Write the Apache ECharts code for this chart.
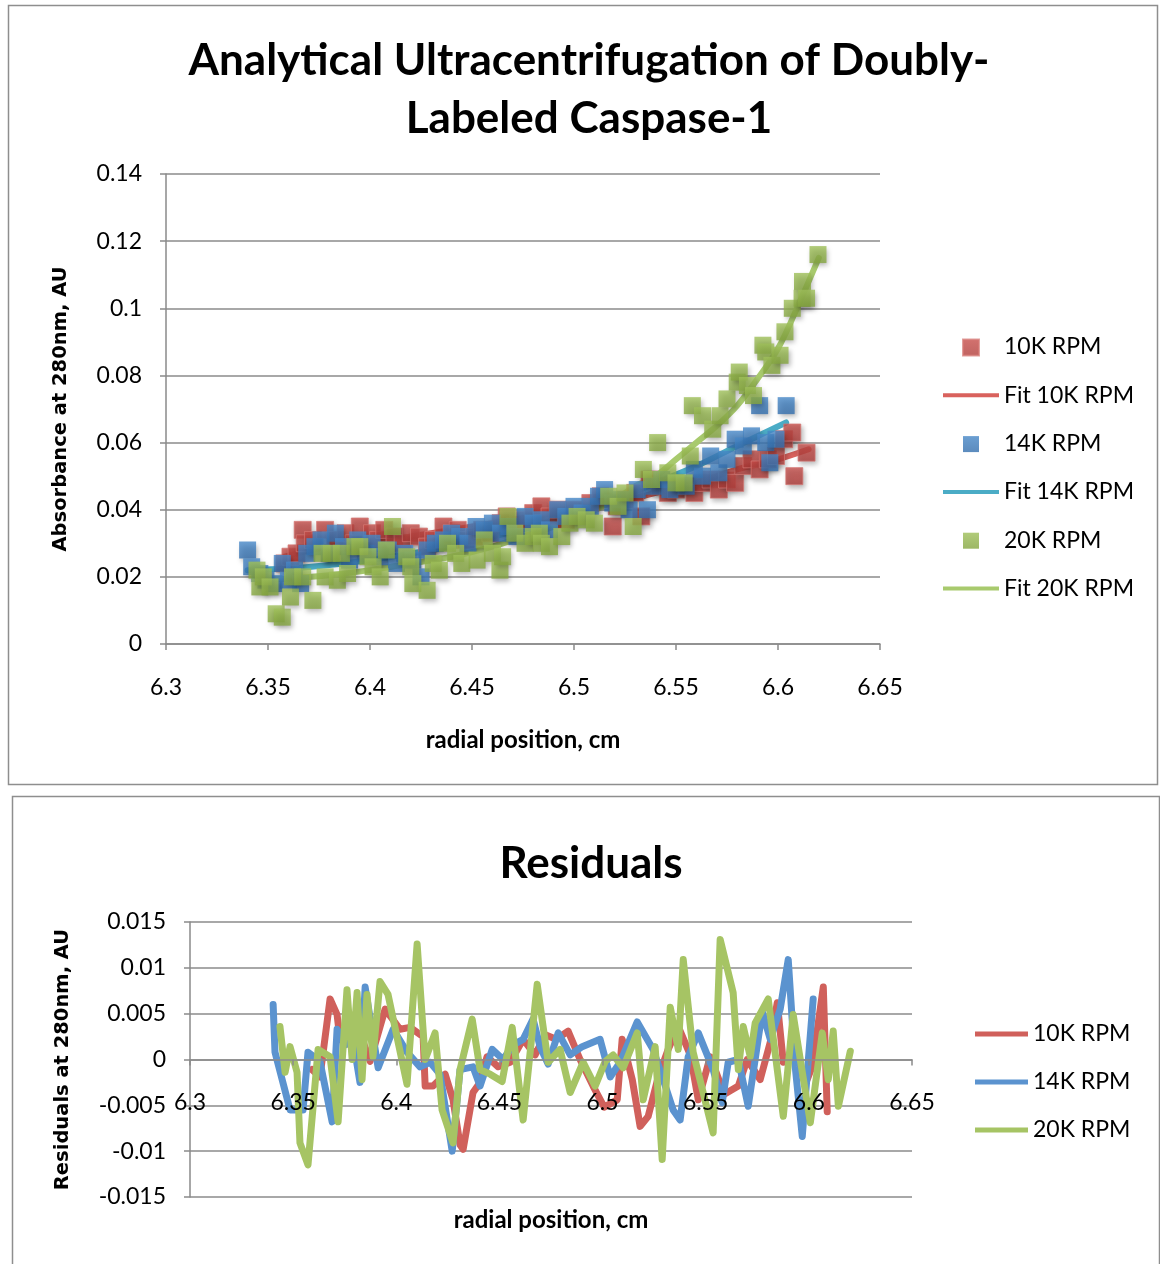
<!DOCTYPE html>
<html>
<head>
<meta charset="utf-8">
<script src="https://cdn.jsdelivr.net/npm/echarts@6/dist/echarts.min.js"></script>
<style>
  html, body { margin: 0; padding: 0; background: #ffffff; }
  #absChart { position: absolute; left: 0; top: 0; width: 1160px; height: 790px; }
  #resChart { position: absolute; left: 0; top: 790px; width: 1160px; height: 474px; }
</style>
</head>
<body>
<div id="absChart"></div>
<div id="resChart"></div>
<script>
// ---- Absorbance scans: [radial position (cm), absorbance (AU)] ----
const abs10K = [
  [6.358,0.024],[6.361,0.026],[6.364,0.027],[6.367,0.034],[6.368,0.030],[6.372,0.031],[6.378,0.034],
  [6.383,0.031],[6.388,0.033],[6.392,0.030],[6.395,0.035],[6.401,0.033],[6.404,0.031],[6.407,0.034],
  [6.412,0.032],[6.416,0.030],[6.420,0.033],[6.424,0.032],[6.428,0.029],[6.431,0.031],[6.436,0.035],
  [6.440,0.033],[6.443,0.034],[6.447,0.031],[6.451,0.032],[6.455,0.034],[6.459,0.033],[6.464,0.036],
  [6.467,0.038],[6.471,0.035],[6.476,0.037],[6.480,0.039],[6.484,0.041],[6.488,0.038],[6.492,0.040],
  [6.496,0.037],[6.500,0.040],[6.504,0.039],[6.508,0.042],[6.513,0.044],[6.519,0.035],[6.521,0.041],
  [6.525,0.043],[6.530,0.045],[6.533,0.038],[6.537,0.049],[6.542,0.047],[6.546,0.045],[6.550,0.046],
  [6.555,0.047],[6.559,0.045],[6.563,0.048],[6.567,0.049],[6.571,0.046],[6.575,0.049],[6.579,0.048],
  [6.583,0.053],[6.587,0.055],[6.591,0.052],[6.595,0.055],[6.599,0.056],[6.603,0.061],[6.607,0.063],
  [6.608,0.050],[6.614,0.057]
];
const abs14K = [
  [6.340,0.028],[6.342,0.023],[6.346,0.021],[6.349,0.019],[6.353,0.018],[6.357,0.024],[6.360,0.019],
  [6.363,0.022],[6.366,0.018],[6.369,0.027],[6.373,0.029],[6.376,0.031],[6.380,0.027],[6.383,0.033],
  [6.387,0.029],[6.390,0.025],[6.394,0.031],[6.398,0.027],[6.401,0.030],[6.405,0.026],[6.409,0.028],
  [6.413,0.024],[6.417,0.027],[6.421,0.025],[6.425,0.020],[6.428,0.028],[6.432,0.030],[6.436,0.031],
  [6.440,0.033],[6.444,0.032],[6.448,0.030],[6.452,0.035],[6.456,0.034],[6.460,0.036],[6.464,0.033],
  [6.468,0.035],[6.472,0.032],[6.476,0.038],[6.480,0.036],[6.484,0.037],[6.488,0.034],[6.492,0.040],
  [6.496,0.038],[6.500,0.041],[6.504,0.039],[6.508,0.041],[6.512,0.044],[6.515,0.046],[6.519,0.042],
  [6.523,0.043],[6.527,0.040],[6.531,0.046],[6.536,0.040],[6.539,0.047],[6.543,0.049],[6.547,0.046],
  [6.551,0.048],[6.555,0.047],[6.559,0.052],[6.563,0.050],[6.567,0.056],[6.571,0.051],[6.575,0.055],
  [6.579,0.061],[6.583,0.059],[6.587,0.062],[6.591,0.071],[6.594,0.060],[6.596,0.054],[6.599,0.061],
  [6.604,0.071]
];
const abs20K = [
  [6.3446,0.022],[6.346,0.017],[6.3477,0.020],[6.351,0.017],[6.354,0.009],[6.357,0.008],[6.361,0.014],
  [6.362,0.020],[6.367,0.020],[6.372,0.013],[6.3765,0.027],[6.378,0.020],[6.381,0.027],[6.384,0.019],
  [6.386,0.027],[6.389,0.021],[6.3926,0.029],[6.395,0.029],[6.399,0.026],[6.4015,0.023],[6.405,0.020],
  [6.408,0.028],[6.411,0.035],[6.418,0.026],[6.420,0.023],[6.421,0.018],[6.428,0.016],[6.431,0.024],
  [6.434,0.022],[6.438,0.030],[6.442,0.027],[6.445,0.024],[6.4525,0.025],[6.456,0.031],[6.460,0.027],
  [6.4637,0.022],[6.465,0.026],[6.4676,0.038],[6.471,0.033],[6.476,0.030],[6.480,0.032],[6.483,0.033],
  [6.484,0.030],[6.488,0.029],[6.494,0.032],[6.498,0.036],[6.5015,0.038],[6.506,0.037],[6.510,0.036],
  [6.517,0.044],[6.5216,0.041],[6.525,0.045],[6.529,0.035],[6.534,0.052],[6.538,0.049],[6.541,0.060],
  [6.546,0.051],[6.550,0.048],[6.554,0.048],[6.557,0.056],[6.558,0.071],[6.563,0.068],[6.568,0.064],
  [6.5716,0.068],[6.575,0.073],[6.580,0.078],[6.581,0.081],[6.585,0.077],[6.588,0.074],[6.5926,0.089],
  [6.594,0.087],[6.597,0.083],[6.601,0.086],[6.6034,0.093],[6.607,0.100],[6.6118,0.103],[6.612,0.108],
  [6.614,0.103],[6.6196,0.116]
];

// ---- Model fits ----
const fit10K = [
  [6.358,0.026],[6.38,0.029],[6.40,0.030],[6.42,0.032],[6.44,0.034],[6.46,0.036],[6.48,0.038],
  [6.50,0.040],[6.52,0.042],[6.54,0.045],[6.56,0.048],[6.58,0.052],[6.60,0.055],[6.615,0.058]
];
const fit14K = [
  [6.340,0.022],[6.36,0.0225],[6.38,0.0235],[6.40,0.025],[6.42,0.027],[6.44,0.029],[6.46,0.032],
  [6.48,0.035],[6.50,0.039],[6.52,0.043],[6.54,0.048],[6.56,0.053],[6.58,0.059],[6.604,0.066]
];
const fit20K = [
  [6.345,0.019],[6.36,0.0195],[6.38,0.0205],[6.40,0.022],[6.42,0.024],[6.44,0.026],[6.46,0.029],
  [6.48,0.033],[6.50,0.037],[6.52,0.043],[6.53,0.047],[6.54,0.050],[6.55,0.055],[6.56,0.060],
  [6.57,0.065],[6.58,0.071],[6.59,0.079],[6.60,0.088],[6.61,0.101],[6.62,0.115]
];

// ---- Residuals of each fit ----
const res10K = [
  [6.3592,-0.0011],[6.3630,-0.0019],[6.3679,0.0066],[6.3713,0.0049],[6.3727,0.0022],[6.3776,0.0016],
  [6.3824,0.0029],[6.3873,-0.0002],[6.3946,0.0055],[6.4018,0.0033],[6.4067,0.0035],[6.4130,0.0025],
  [6.4140,-0.0029],[6.4178,-0.0029],[6.4237,-0.0016],[6.4275,-0.0044],[6.4309,-0.0093],[6.4324,-0.0098],
  [6.4372,-0.0036],[6.4406,-0.0025],[6.4440,0.0003],[6.4494,-0.0008],[6.4552,-0.0003],[6.4615,0.0022],
  [6.4673,0.0005],[6.4722,0.0027],[6.4775,0.0022],[6.4833,0.0031],[6.4891,0.0000],[6.4954,-0.0029],
  [6.5008,-0.0052],[6.5071,-0.0044],[6.5095,0.0022],[6.5144,-0.0022],[6.5182,-0.0073],[6.5221,-0.0062],
  [6.5270,-0.0019],[6.5318,0.0011],[6.5367,0.0036],[6.5425,0.0005],[6.5464,-0.0044],[6.5522,0.0003],
  [6.5590,-0.0038],[6.5658,-0.0029],[6.5701,0.0000],[6.5764,-0.0022],[6.5813,0.0019],[6.5847,0.0062],
  [6.5876,-0.0003],[6.5934,0.0011],[6.5983,-0.0027],[6.6016,-0.0008],[6.6070,0.0079],[6.6089,-0.0057]
];
const res14K = [
  [6.3403,0.0060],[6.3412,0.0008],[6.3485,-0.0055],[6.3548,-0.0055],[6.3572,0.0008],[6.3630,-0.0002],
  [6.3689,-0.0068],[6.3713,0.0033],[6.3752,0.0016],[6.3790,0.0022],[6.3824,-0.0025],[6.3849,0.0079],
  [6.3912,-0.0009],[6.3985,0.0033],[6.4052,0.0008],[6.4115,-0.0008],[6.4164,-0.0003],[6.4212,-0.0016],
  [6.4271,-0.0100],[6.4309,-0.0011],[6.4372,-0.0008],[6.4406,-0.0029],[6.4465,0.0011],[6.4518,0.0000],
  [6.4566,0.0016],[6.4615,0.0022],[6.4663,0.0044],[6.4697,0.0014],[6.4736,-0.0005],[6.4785,0.0029],
  [6.4843,0.0005],[6.4901,0.0014],[6.4988,0.0022],[6.5037,-0.0019],[6.5085,-0.0003],[6.5168,0.0041],
  [6.5245,0.0011],[6.5294,-0.0022],[6.5342,-0.0055],[6.5376,-0.0066],[6.5415,0.0003],[6.5464,0.0029],
  [6.5536,-0.0011],[6.5580,-0.0047],[6.5609,-0.0003],[6.5658,0.0000],[6.5706,-0.0051],[6.5774,0.0052],
  [6.5813,0.0022],[6.5861,0.0055],[6.5900,0.0109],[6.5934,-0.0008],[6.5968,-0.0084],[6.6021,0.0066]
];
const res20K = [
  [6.3436,0.0036],[6.3461,-0.0014],[6.3485,0.0014],[6.3519,-0.0014],[6.3533,-0.0091],[6.3572,-0.0115],
  [6.3621,0.0011],[6.3679,0.0003],[6.3718,-0.0068],[6.3761,0.0076],[6.3786,0.0000],[6.3810,0.0073],
  [6.3834,-0.0022],[6.3858,0.0071],[6.3887,0.0003],[6.3921,0.0085],[6.3960,0.0071],[6.4052,-0.0027],
  [6.4101,0.0126],[6.4140,0.0000],[6.4188,0.0029],[6.4222,-0.0055],[6.4275,-0.0091],[6.4309,-0.0011],
  [6.4368,0.0044],[6.4406,-0.0011],[6.4455,-0.0016],[6.4513,-0.0024],[6.4562,0.0035],[6.4615,-0.0066],
  [6.4683,0.0082],[6.4736,-0.0003],[6.4794,0.0011],[6.4843,-0.0036],[6.4906,-0.0003],[6.4964,-0.0029],
  [6.5013,-0.0002],[6.5051,0.0005],[6.5100,-0.0009],[6.5168,0.0029],[6.5197,-0.0044],[6.5255,0.0014],
  [6.5289,-0.0109],[6.5328,0.0057],[6.5367,0.0011],[6.5391,0.0109],[6.5439,0.0008],[6.5536,-0.0080],
  [6.5570,0.0131],[6.5633,0.0073],[6.5658,-0.0011],[6.5682,0.0036],[6.5716,0.0003],[6.5740,0.0040],
  [6.5803,0.0066],[6.5876,-0.0062],[6.5924,0.0049],[6.6007,-0.0069],[6.6065,0.0029],[6.6094,-0.0022],
  [6.6118,0.0031],[6.6143,-0.0051],[6.6201,0.0009]
];

// ---- Shared styling ----
const BASE_FONT = 'Lato, "Open Sans", sans-serif';
const TITLE_FONT = '"DejaVu Sans", Verdana, sans-serif';
const AXIS_GRAY = '#8a8a8a';
const GRID_GRAY = '#a8a8a8';
const TICK_FONT_SIZE = 23;

const fmt2 = v => String(Math.round(v * 100) / 100);
const fmt3 = v => String(Math.round(v * 1000) / 1000);

// legend glyphs: a centred square, and a horizontal stroke, inside the item box
const SQUARE_ICON = 'path://M0,0M56,17M20,1H36V17H20Z';
const LINE_ICON = 'path://M0,0M56,17M0,6.5H56V10.5H0Z';
const RES_LINE_ICON = 'path://M0,0M53,17M0,6H53V11H0Z';

function gradient(top, bottom) {
  return { type: 'linear', x: 0, y: 0, x2: 0, y2: 1,
    colorStops: [{ offset: 0, color: top }, { offset: 1, color: bottom }] };
}
function markerSeries(name, data, top, bottom, z, border) {
  return {
    type: 'scatter', name, data, symbol: 'rect', symbolSize: 17, z,
    itemStyle: {
      color: gradient(top, bottom),
      borderColor: border || 'rgba(0,0,0,0)', borderWidth: border ? 1 : 0,
      shadowBlur: 5, shadowOffsetX: 2, shadowOffsetY: 3, shadowColor: 'rgba(0,0,0,0.35)'
    },
    emphasis: { disabled: true }
  };
}
function fitSeries(name, data, color, z) {
  return {
    type: 'line', name, data, smooth: 0.35, symbol: 'none', showSymbol: false, z,
    lineStyle: { color, width: 6, cap: 'round', join: 'round' },
    itemStyle: { color }, emphasis: { disabled: true }
  };
}
function valueAxisBase() {
  return {
    type: 'value',
    axisLine: { show: true, onZero: false, lineStyle: { color: AXIS_GRAY, width: 1.5 } },
    axisTick: { show: true, length: 6, lineStyle: { color: AXIS_GRAY, width: 1.5 } },
    splitLine: { show: false }
  };
}
function tickLabels(margin, formatter) {
  return { color: '#000', fontFamily: BASE_FONT, fontSize: TICK_FONT_SIZE, margin, formatter };
}

// ---- Absorbance chart ----
const absChart = echarts.init(document.getElementById('absChart'), null, { renderer: 'canvas' });
absChart.setOption({
  animation: false,
  backgroundColor: '#ffffff',
  graphic: [{
    type: 'rect', silent: true, z: -10,
    shape: { x: 8.5, y: 5.5, width: 1149, height: 779 },
    style: { fill: 'none', stroke: '#8e8e8e', lineWidth: 1.5 }
  }],
  title: {
    text: 'Analytical Ultracentrifugation of Doubly-\nLabeled Caspase-1',
    left: 584, textAlign: 'center', top: 27,
    textStyle: { fontFamily: BASE_FONT, fontWeight: 'bold', fontSize: 44, lineHeight: 58, color: '#000' }
  },
  legend: {
    orient: 'vertical', left: 937, top: 330.5,
    itemWidth: 56, itemHeight: 17, itemGap: 25.3,
    selectedMode: false,
    textStyle: { fontFamily: BASE_FONT, fontSize: 23, color: '#000' },
    data: [
      { name: '10K RPM', icon: SQUARE_ICON },
      { name: 'Fit 10K RPM', icon: LINE_ICON },
      { name: '14K RPM', icon: SQUARE_ICON },
      { name: 'Fit 14K RPM', icon: LINE_ICON },
      { name: '20K RPM', icon: SQUARE_ICON },
      { name: 'Fit 20K RPM', icon: LINE_ICON }
    ]
  },
  grid: { left: 166, top: 174, width: 714, height: 470, outerBoundsMode: 'none' },
  xAxis: Object.assign(valueAxisBase(), {
    min: 6.3, max: 6.65, interval: 0.05,
    axisLabel: tickLabels(32, fmt2),
    name: 'radial position, cm', nameLocation: 'middle', nameGap: 84,
    nameTextStyle: { fontFamily: BASE_FONT, fontWeight: 'bold', fontSize: 24, color: '#000' }
  }),
  yAxis: Object.assign(valueAxisBase(), {
    min: 0, max: 0.14, interval: 0.02,
    axisLabel: tickLabels(24, fmt3),
    splitLine: { show: true, lineStyle: { color: GRID_GRAY, width: 2 } },
    name: 'Absorbance at 280nm, AU', nameLocation: 'middle', nameGap: 95,
    nameTextStyle: { fontFamily: TITLE_FONT, fontWeight: 'bold', fontSize: 19.5, color: '#000' }
  }),
  series: [
    markerSeries('10K RPM', abs10K, '#c94f4b', '#b03c39', 4, 'rgba(214,120,116,0.9)'),
    fitSeries('Fit 10K RPM', fit10K, '#d9625d', 3),
    markerSeries('14K RPM', abs14K, '#4788c8', '#336ead', 5),
    fitSeries('Fit 14K RPM', fit14K, '#4bacc6', 3),
    markerSeries('20K RPM', abs20K, '#9fc05a', '#84a53f', 6),
    fitSeries('Fit 20K RPM', fit20K, '#a8ca6d', 3)
  ]
});

// ---- Residuals chart ----
const resChart = echarts.init(document.getElementById('resChart'), null, { renderer: 'canvas' });
function residualSeries(name, data, color, z) {
  return {
    type: 'line', name, data, symbol: 'none', showSymbol: false, z,
    lineStyle: { color, width: 7, cap: 'round', join: 'round' },
    itemStyle: { color }, emphasis: { disabled: true }
  };
}
const RES_GRID_HEIGHT = 275;
resChart.setOption({
  animation: false,
  backgroundColor: '#ffffff',
  graphic: [{
    type: 'rect', silent: true, z: -10,
    shape: { x: 12.5, y: 6.5, width: 1147, height: 520 },
    style: { fill: 'none', stroke: '#8e8e8e', lineWidth: 1.5 }
  }],
  title: {
    text: 'Residuals', left: 586, textAlign: 'center', top: 46,
    textStyle: { fontFamily: BASE_FONT, fontWeight: 'bold', fontSize: 44, lineHeight: 46, color: '#000' }
  },
  legend: {
    orient: 'vertical', left: 970, top: 227.5,
    itemWidth: 53, itemHeight: 17, itemGap: 25,
    selectedMode: false,
    textStyle: { fontFamily: BASE_FONT, fontSize: 23, color: '#000' },
    data: [
      { name: '10K RPM', icon: RES_LINE_ICON },
      { name: '14K RPM', icon: RES_LINE_ICON },
      { name: '20K RPM', icon: RES_LINE_ICON }
    ]
  },
  grid: { left: 190, top: 132, width: 722, height: RES_GRID_HEIGHT, outerBoundsMode: 'none' },
  xAxis: Object.assign(valueAxisBase(), {
    min: 6.3, max: 6.65, interval: 0.05,
    // the position axis sits on the zero residual, half way up the plot,
    // with its labels drawn above the residual traces
    offset: -RES_GRID_HEIGHT / 2,
    z: 10,
    axisLabel: tickLabels(32, fmt2),
    name: 'radial position, cm', nameLocation: 'middle', nameGap: 149,
    nameTextStyle: { fontFamily: BASE_FONT, fontWeight: 'bold', fontSize: 24, color: '#000' }
  }),
  yAxis: Object.assign(valueAxisBase(), {
    min: -0.015, max: 0.015, interval: 0.005,
    axisLabel: tickLabels(24, fmt3),
    splitLine: { show: true, lineStyle: { color: GRID_GRAY, width: 2 } },
    name: 'Residuals at 280nm, AU', nameLocation: 'middle', nameGap: 117,
    nameTextStyle: { fontFamily: TITLE_FONT, fontWeight: 'bold', fontSize: 19.5, color: '#000' }
  }),
  series: [
    residualSeries('10K RPM', res10K, '#d0605b', 3),
    residualSeries('14K RPM', res14K, '#5b93cf', 4),
    residualSeries('20K RPM', res20K, '#a6c464', 5)
  ]
});
</script>
</body>
</html>
